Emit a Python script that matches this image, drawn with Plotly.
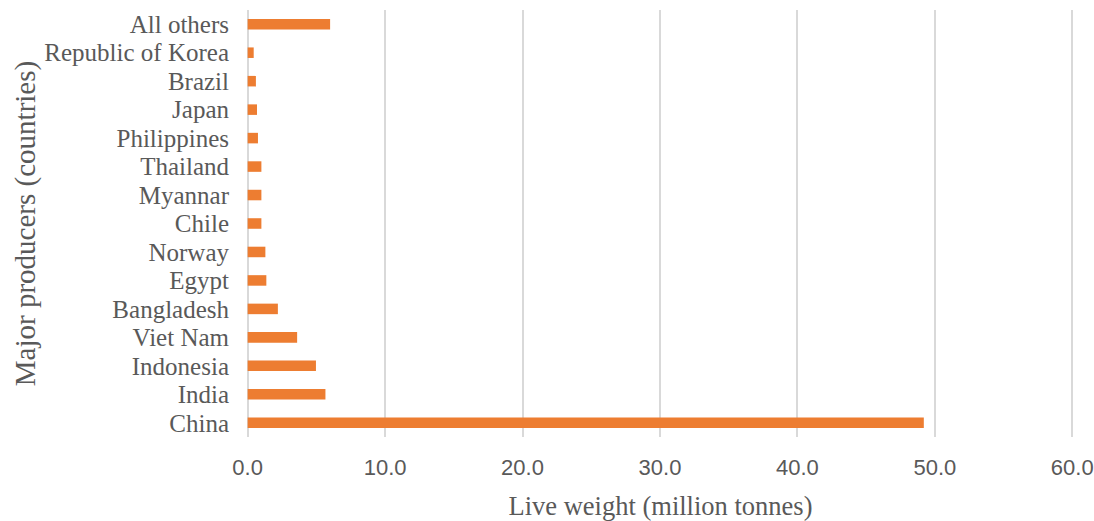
import plotly.graph_objects as go

countries = ["China", "India", "Indonesia", "Viet Nam", "Bangladesh", "Egypt", "Norway",
             "Chile", "Myannar", "Thailand", "Philippines", "Japan", "Brazil",
             "Republic of Korea", "All others"]
values = [49.2, 5.66, 4.97, 3.6, 2.2, 1.36, 1.29, 1.0, 1.0, 1.0, 0.75, 0.68, 0.6, 0.44, 6.0]
x_ticks = [0, 10, 20, 30, 40, 50, 60]
x_tick_labels = ["0.0", "10.0", "20.0", "30.0", "40.0", "50.0", "60.0"]

fig = go.Figure(go.Bar(
    x=values, y=countries, orientation="h",
    marker=dict(color="#ED7D31", line=dict(width=0)),
    width=0.37,
))

fig.update_layout(
    width=1094, height=521,
    margin=dict(l=246, r=19, t=10, b=84),
    paper_bgcolor="white", plot_bgcolor="white",
    showlegend=False,
    xaxis=dict(
        range=[-0.12, 60.2], tickvals=x_ticks, ticktext=x_tick_labels,
        showgrid=True, gridcolor="#D9D9D9", gridwidth=2,
        zeroline=True, zerolinecolor="#D9D9D9", zerolinewidth=2,
        showline=False, ticks="", automargin=False,
        tickfont=dict(family="Liberation Sans, Arial, sans-serif", size=22, color="#595959"),
        ticklabelstandoff=15,
        title=dict(text="Live weight (million tonnes)", standoff=18,
                   font=dict(family="Liberation Serif, Times New Roman, serif", size=26.5, color="#595959")),
    ),
    yaxis=dict(
        range=[-0.5, 14.5], tickvals=countries, ticktext=countries,
        showgrid=False, zeroline=False, showline=False, ticks="", automargin=False,
        tickfont=dict(family="Liberation Serif, Times New Roman, serif", size=25, color="#595959"),
        ticklabelstandoff=16,
        title=dict(text="Major producers (countries)", standoff=0,
                   font=dict(family="Liberation Serif, Times New Roman, serif", size=29, color="#595959")),
    ),
)

fig.write_html("out.html")
